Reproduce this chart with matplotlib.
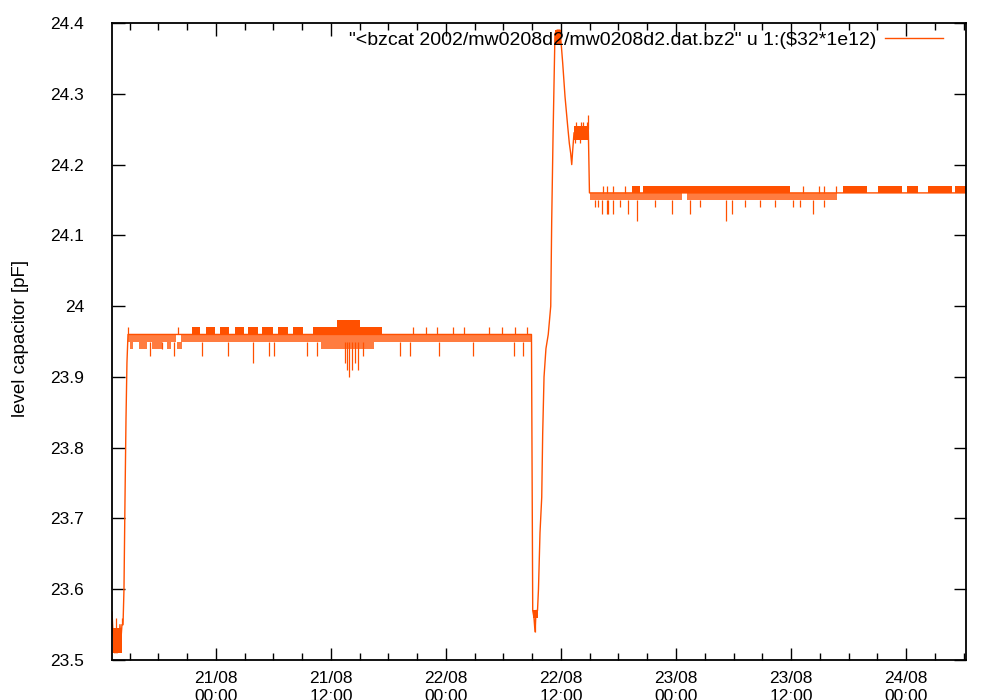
import numpy as np
import matplotlib
matplotlib.use("Agg")
import matplotlib.pyplot as plt
import matplotlib.dates as mdates
from matplotlib.ticker import FuncFormatter, MultipleLocator

plt.rcParams['font.family'] = ['Liberation Sans', 'DejaVu Sans']

# time axis: hours after 21/08/2002 00:00
trace_hours = [-10.85, -10.75, -10.64, -10.54, -10.43, -10.33, -10.23, -10.12,
               -10.02, -9.91, -9.81, -9.70, -9.60, -9.50, -9.39, -9.29, -9.18,
               32.92, 33.05, 33.18, 33.29, 33.39, 33.55, 33.65, 33.81, 33.99,
               34.09, 34.23, 34.43, 34.67, 34.93, 35.03, 35.17, 35.37, 35.58,
               35.90, 36.07, 36.18, 36.42, 36.70, 36.87, 37.01, 37.12, 37.22,
               37.36, 38.85, 38.97, 78.26]
trace_pf = [23.568, 23.54, 23.52, 23.51, 23.53, 23.51, 23.54, 23.52,
            23.55, 23.53, 23.55, 23.55, 23.60, 23.72, 23.84, 23.92, 23.96,
            23.96, 23.57, 23.56, 23.54, 23.57, 23.57, 23.60, 23.68, 23.73,
            23.82, 23.90, 23.94, 23.96, 24.00, 24.12, 24.24, 24.385, 24.39,
            24.39, 24.362, 24.343, 24.296, 24.254, 24.23, 24.216, 24.20, 24.22,
            24.245, 24.25, 24.16, 24.16]

# stretches where the reading flickers between two adjacent levels (solid)
band_start = [-10.70, 33.13, 35.37, 37.36,
              -2.54, -1.04, 0.42, 1.98, 3.34, 4.80, 6.47, 8.04, 10.12, 12.63,
              43.41, 44.56, 65.43, 69.08, 72.10, 74.30, 77.11]
band_end = [-9.76, 33.55, 35.99, 38.85,
            -1.67, -0.10, 1.36, 2.92, 4.38, 5.95, 7.51, 9.08, 17.32, 15.03,
            44.24, 59.90, 67.93, 71.58, 73.25, 76.80, 78.26]
band_low = [23.51, 23.56, 24.37, 24.235,
            23.96, 23.96, 23.96, 23.96, 23.96, 23.96, 23.96, 23.96, 23.96, 23.97,
            24.16, 24.16, 24.16, 24.16, 24.16, 24.16, 24.16]
band_high = [23.545, 23.57, 24.39, 24.255,
             23.97, 23.97, 23.97, 23.97, 23.97, 23.97, 23.97, 23.97, 23.97, 23.98,
             24.17, 24.17, 24.17, 24.17, 24.17, 24.17, 24.17]

# stretches where the reading only now and then drops a level (sparse)
sparse_start = [-9.18, -3.65, -8.98, -8.04, -6.68, -5.11, -4.07, 10.95, 39.03, 49.15]
sparse_end = [-4.17, 32.90, -8.66, -7.20, -5.64, -4.70, -3.55, 16.49, 48.63, 64.80]
sparse_low = [23.95, 23.95, 23.94, 23.94, 23.94, 23.94, 23.94, 23.94, 24.15, 24.15]
sparse_high = [23.96, 23.96, 23.95, 23.95, 23.95, 23.95, 23.95, 23.95, 24.16, 24.16]

# single-sample excursions away from the running level
spike_hours = [-10.46, -9.79, 33.29,
               -6.89, -5.64, -4.38, -1.49, 1.28, 3.89, 5.56, 6.05, 9.46, 10.51,
               13.46, 13.67, 13.91, 14.19, 14.50, 14.82, 15.34, 19.20, 20.24,
               23.27, 26.82, 31.10, 32.04,
               -9.15, -3.97, 20.59, 21.91, 23.09, 24.70, 25.88, 28.52, 29.81,
               31.20, 32.48,
               37.57, 38.06, 38.33, 38.69, 38.85, 37.46, 37.98,
               40.25, 40.77, 41.40, 40.90, 42.99, 43.96, 47.58, 49.46, 53.22,
               53.81, 60.18, 60.94, 62.33, 63.48, 39.55, 39.86, 42.16, 45.81,
               50.50, 55.20, 56.77, 58.33,
               40.38, 40.80, 41.43, 42.68, 61.25, 62.96, 63.48, 64.70]
spike_from = [23.54, 23.55, 23.56,
              23.95, 23.95, 23.95, 23.95, 23.95, 23.95, 23.95, 23.95, 23.95, 23.95,
              23.95, 23.95, 23.95, 23.95, 23.95, 23.95, 23.95, 23.95, 23.95,
              23.95, 23.95, 23.95, 23.95,
              23.96, 23.96, 23.96, 23.96, 23.96, 23.96, 23.96, 23.96, 23.96,
              23.96, 23.96,
              24.25, 24.25, 24.25, 24.25, 24.25, 24.24, 24.24,
              24.15, 24.15, 24.15, 24.15, 24.15, 24.15, 24.15, 24.15, 24.15,
              24.15, 24.15, 24.15, 24.15, 24.15, 24.15, 24.15, 24.15, 24.15,
              24.15, 24.15, 24.15, 24.15,
              24.16, 24.16, 24.16, 24.16, 24.16, 24.16, 24.16, 24.16]
spike_to = [23.56, 23.56, 23.54,
            23.93, 23.94, 23.93, 23.93, 23.93, 23.92, 23.93, 23.93, 23.93, 23.93,
            23.92, 23.91, 23.90, 23.91, 23.92, 23.91, 23.93, 23.93, 23.93,
            23.93, 23.93, 23.93, 23.93,
            23.97, 23.97, 23.97, 23.97, 23.97, 23.97, 23.97, 23.97, 23.97,
            23.97, 23.97,
            24.26, 24.26, 24.26, 24.26, 24.27, 24.23, 24.23,
            24.13, 24.13, 24.13, 24.13, 24.13, 24.12, 24.13, 24.13, 24.12,
            24.13, 24.14, 24.14, 24.13, 24.14, 24.14, 24.14, 24.14, 24.14,
            24.14, 24.14, 24.14, 24.14,
            24.17, 24.17, 24.17, 24.17, 24.17, 24.17, 24.17, 24.17]

legend_label = r'"<bzcat 2002/mw0208d2/mw0208d2.dat.bz2" u 1:(\$32*1e12)'
y_label = "level capacitor [pF]"

T0 = np.datetime64('2002-08-21T00:00')
COLOR = '#ff5000'


def to_time(hours):
    return T0 + (np.asarray(hours, dtype=float) * 3600).astype('timedelta64[s]')


fig = plt.figure(figsize=(10, 7), dpi=100)
ax = fig.add_axes([0.112, 0.0571, 0.854, 0.910])

line, = ax.plot(to_time(trace_hours), trace_pf, color=COLOR, lw=1.0, label=legend_label)

for t0, t1, lo, hi in zip(band_start, band_end, band_low, band_high):
    ax.fill_between(to_time([t0, t1]), [lo, lo], [hi, hi], color=COLOR, lw=0)

# sparse flicker looks like a hatch of thin lines, so draw it lighter
for t0, t1, lo, hi in zip(sparse_start, sparse_end, sparse_low, sparse_high):
    ax.fill_between(to_time([t0, t1]), [lo, lo], [hi, hi], color=COLOR, alpha=0.75, lw=0)

ax.vlines(to_time(spike_hours), spike_from, spike_to, color=COLOR, lw=0.9)

ax.set_xlim(to_time(-10.85), to_time(78.26))
ax.set_ylim(23.5, 24.4)

ax.xaxis.set_major_locator(mdates.HourLocator(byhour=[0, 12]))
ax.xaxis.set_minor_locator(mdates.HourLocator(byhour=range(0, 24, 3)))
ax.xaxis.set_major_formatter(mdates.DateFormatter('%d/%m\n%H:%M'))
ax.yaxis.set_major_locator(MultipleLocator(0.1))
ax.yaxis.set_major_formatter(FuncFormatter(lambda v, _: f"{round(v, 2):g}"))

ax.tick_params(which='both', direction='in', top=True, right=True, width=1.0,
               labelsize=12.5, colors='black')
ax.tick_params(which='major', length=9)
ax.tick_params(which='minor', length=5)
ax.tick_params(axis='y', pad=20)
ax.tick_params(axis='x', pad=8)
for s in ax.spines.values():
    s.set_linewidth(1.3)

fig.text(0.021, 1 - 338 / 700, y_label, rotation=90, ha='center', va='center', fontsize=13.5)

ax.legend(handles=[line], loc='upper right', bbox_to_anchor=(0.943, 0.955),
          bbox_transform=fig.transFigure, frameon=False, markerfirst=False,
          borderpad=0, borderaxespad=0, handlelength=3.0, handletextpad=0.45,
          fontsize=14)

fig.savefig('out.png', dpi=100)
